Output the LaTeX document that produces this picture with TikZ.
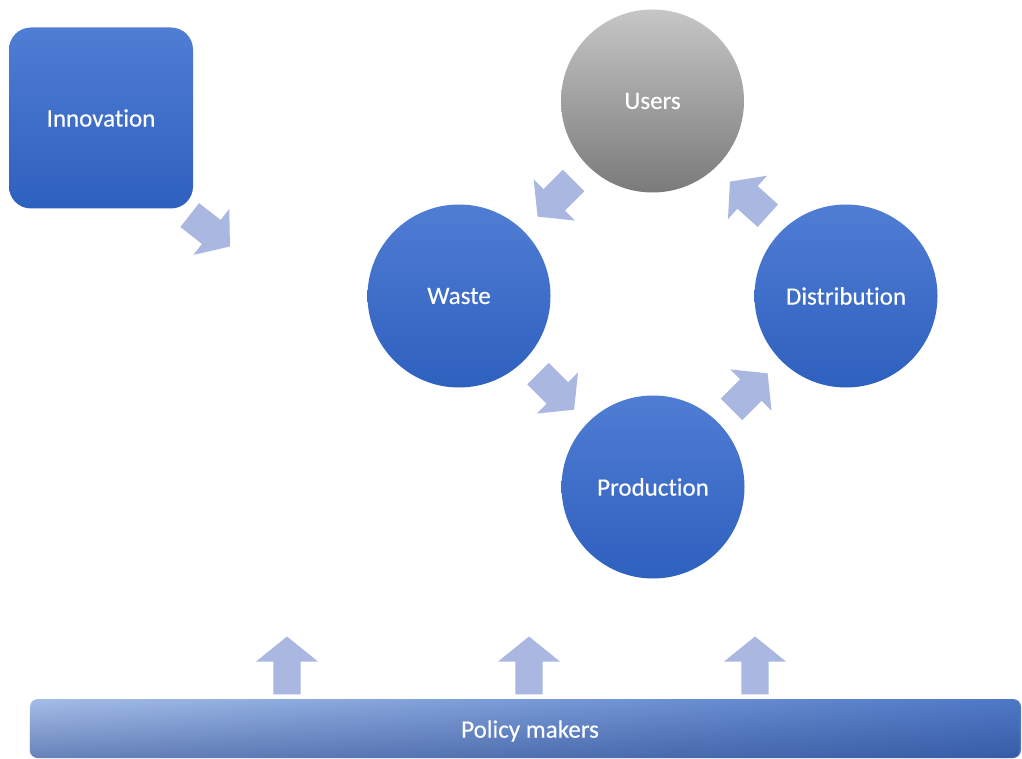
\documentclass[tikz,border=0pt]{standalone}
\usepackage{fontspec}
\setmainfont{Carlito}[Ligatures=NoCommon, FakeBold=0.3]
\usetikzlibrary{shapes.arrows,calc,fadings}
\definecolor{bluetop}{RGB}{80,125,212}
\definecolor{bluebot}{RGB}{46,96,190}
\definecolor{graytop}{RGB}{198,198,198}
\definecolor{graybot}{RGB}{122,122,122}
\definecolor{arrowfill}{RGB}{170,184,225}
\definecolor{barleft}{RGB}{165,190,232}
\definecolor{barright}{RGB}{78,120,198}
\definecolor{barshadow}{RGB}{28,58,128}
\begin{document}
\begin{tikzpicture}[x=1pt,y=-1pt,
  label text/.style={text=white, font=\fontsize{25}{30}\selectfont},
  stage/.style={circle, minimum size=183pt, inner sep=0pt, draw=none,
    top color=bluetop, bottom color=bluebot, label text},
  userstage/.style={stage, top color=graytop, bottom color=graybot},
  innobox/.style={rectangle, rounded corners=22pt, minimum width=184pt,
    minimum height=181pt, inner sep=0pt, top color=bluetop, bottom color=bluebot, label text},
  flowarrow/.style={single arrow, fill=arrowfill, draw=none, inner xsep=0pt,
    inner ysep=15pt, single arrow head extend=14pt, single arrow tip angle=102,
    minimum height=51pt},
  pusharrow/.style={single arrow, fill=arrowfill, draw=none, inner xsep=0pt,
    inner ysep=13.5pt, single arrow head extend=17.5pt, single arrow tip angle=102,
    minimum height=58pt, rotate=90}
]
\useasboundingbox (0,0) rectangle (1022,759);

% cycle stages
\node[userstage] (users) at (652.5,101) {Users};
\node[stage] (waste) at (459,296) {Waste};
\node[stage] (dist) at (846,296) {Distribution};
\node[stage] (prod) at (653,487) {Production};

% innovation block
\node[innobox] (innov) at (101,118) {\raisebox{-3pt}{Innovation}};

% cycle arrows, each halfway between its two stages
\node[flowarrow, rotate=-135] (a1) at ($(users)!0.5!(waste)!6pt!(users)$) {};
\node[flowarrow, rotate=-45] (a2) at ($(waste)!0.5!(prod)!6pt!(waste)$) {};
\node[flowarrow, rotate=45] (a3) at ($(prod)!0.5!(dist)!6pt!(prod)$) {};
\node[flowarrow, rotate=138] (a4) at ($(dist)!0.5!(users)!6pt!(dist)$) {};

% innovation feeding in
\node[flowarrow, rotate=-38] (a0) at (205,227) {};

% policy makers bar: horizontal shading, darkened towards its bottom edge
\shade[left color=barleft, right color=barright, rounded corners=8pt]
  (30,699) rectangle (1021,758);
\fill[barshadow, path fading=north, fill opacity=0.45, rounded corners=8pt]
  (30,699) rectangle (1021,758);
\node[label text] (policy) at (530,731) {Policy makers};

% policy influence arrows
\node[pusharrow] (p1) at (287,671) {};
\node[pusharrow] (p2) at (529,671) {};
\node[pusharrow] (p3) at (755,671) {};
\end{tikzpicture}
\end{document}
